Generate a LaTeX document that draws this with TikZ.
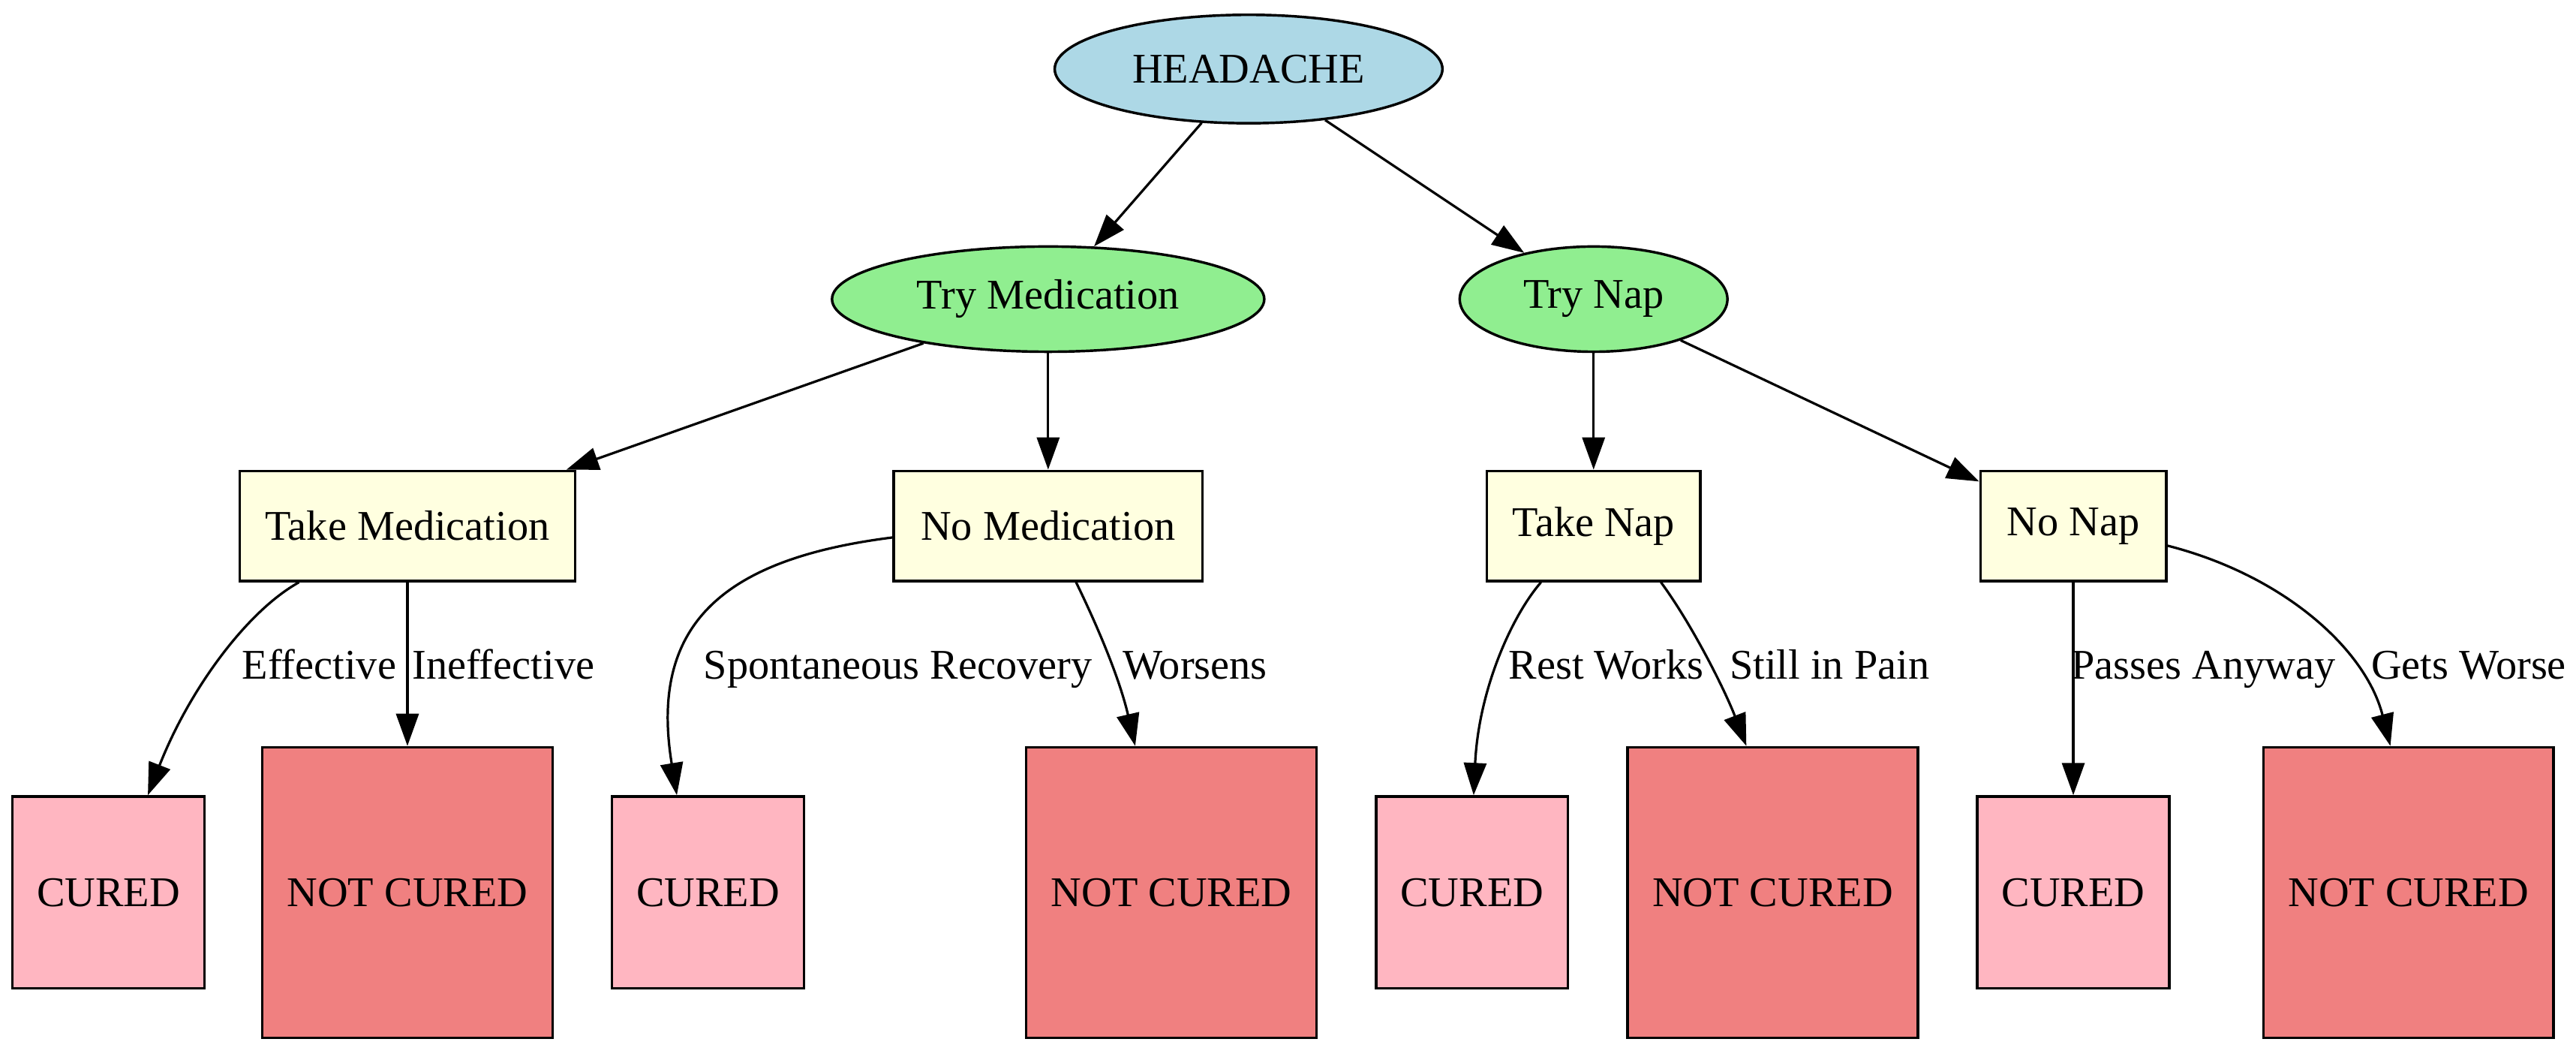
\documentclass[tikz,border=0pt]{standalone}
\usepackage{fontspec}
\setmainfont{Liberation Serif}
\usetikzlibrary{shapes.geometric,arrows.meta,calc}
\definecolor{lblue}{HTML}{ADD8E6}
\definecolor{lgreen}{HTML}{90EE90}
\definecolor{lyellow}{HTML}{FFFFE0}
\definecolor{lpink}{HTML}{FFB6C1}
\definecolor{lcoral}{HTML}{F08080}
\begin{document}
\begin{tikzpicture}[x=0.5093pt,y=-0.5093pt,
  every node/.style={font=\fontsize{13.1}{16}\selectfont, inner sep=0pt},
  ell/.style={ellipse, draw, line width=0.8pt},
  box/.style={rectangle, draw, line width=0.8pt, fill=lyellow, minimum height=34.1pt},
  cured/.style={rectangle, draw, line width=0.8pt, fill=lpink, minimum width=59.5pt, minimum height=59.5pt},
  notcured/.style={rectangle, draw, line width=0.8pt, fill=lcoral, minimum width=90pt, minimum height=90pt},
  conn/.style={draw, line width=0.75pt, -{Triangle[length=10pt,width=7pt]}},
  lbl/.style={anchor=base west, inner sep=0pt}
]
\useasboundingbox (0,0) rectangle (1568,639);

\node[ell, fill=lblue, minimum width=120.2pt, minimum height=33.6pt] (h) at (760,42) {HEADACHE};
\node[ell, fill=lgreen, minimum width=134pt, minimum height=32.6pt] (tm) at (638,182) {Try Medication};
\node[ell, fill=lgreen, minimum width=83pt, minimum height=32.6pt] (tn) at (970,182) {Try Nap};
\node[box, minimum width=103.9pt] (takem) at (248,320) {Take Medication};
\node[box, minimum width=95.7pt] (nom) at (638,320) {No Medication};
\node[box, minimum width=66.2pt] (taken) at (970,320) {Take Nap};
\node[box, minimum width=57.6pt] (non) at (1262,320) {No Nap};
\node[cured] (c1) at (66,543) {CURED};
\node[notcured] (n1) at (248,543) {NOT CURED};
\node[cured] (c2) at (431,543) {CURED};
\node[notcured] (n2) at (713,543) {NOT CURED};
\node[cured] (c3) at (896,543) {CURED};
\node[notcured] (n3) at (1079,543) {NOT CURED};
\node[cured] (c4) at (1262,543) {CURED};
\node[notcured] (n4) at (1466,543) {NOT CURED};

\draw[conn] (h) -- (tm);
\draw[conn] (h) -- (tn);
\draw[conn] (tm) -- (takem);
\draw[conn] (tm) -- (nom);
\draw[conn] (tn) -- (taken);
\draw[conn] (tn) -- (non);

\draw[conn] ($(takem.south)+(-66,0)$) .. controls (150,372) and (115,420) .. ($(c1.north)+(24,0)$);
\draw[conn] (takem) -- (n1);
\draw[conn] ($(nom.west)+(0,7)$) .. controls (440,340) and (395,380) .. ($(c2.north)+(-19,0)$);
\draw[conn] ($(nom.south)+(17,0)$) .. controls (670,385) and (682,415) .. ($(n2.north)+(-22,0)$);
\draw[conn] ($(taken.south)+(-32,0)$) .. controls (920,375) and (900,420) .. ($(c3.north)+(1,0)$);
\draw[conn] ($(taken.south)+(41,0)$) .. controls (1030,380) and (1050,420) .. ($(n3.north)+(-16,0)$);
\draw[conn] (non) -- (c4);
\draw[conn] ($(non.east)+(0,12)$) .. controls (1390,350) and (1440,395) .. ($(n4.north)+(-11,0)$);

\node[lbl] (l1) at (147,413) {Effective};
\node[lbl] (l2) at (250.5,413) {Ineffective};
\node[lbl] (l3) at (428,413) {Spontaneous Recovery};
\node[lbl] (l4) at (683,413) {Worsens};
\node[lbl] (l5) at (918,413) {Rest Works};
\node[lbl] (l6) at (1052.5,413) {Still in Pain};
\node[lbl] (l7) at (1260.5,413) {Passes Anyway};
\node[lbl] (l8) at (1443,413) {Gets Worse};
\end{tikzpicture}
\end{document}
